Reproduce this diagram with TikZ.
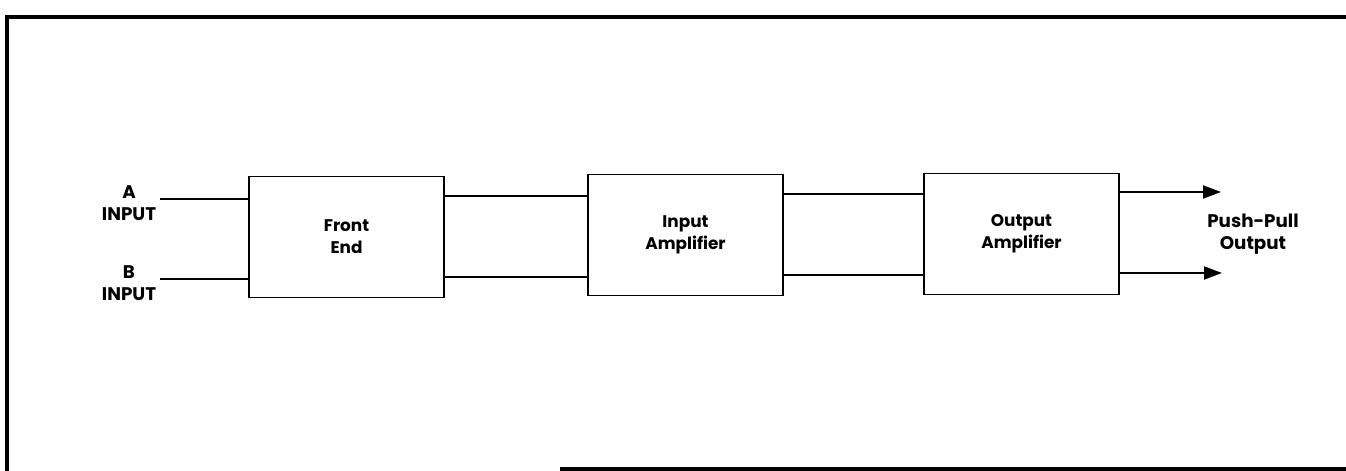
\documentclass[tikz,border=0pt]{standalone}
\usepackage{fontspec}
\setmainfont{Poppins}
\usetikzlibrary{arrows.meta}

\begin{document}
\begin{tikzpicture}[
    block/.style={draw, line width=1.1pt, minimum width=3.9cm, minimum height=2.42cm, align=center, font=\bfseries\fontsize{9.6}{12.5}\selectfont},
    lbl/.style={align=center, font=\bfseries\fontsize{10.4}{12.2}\selectfont},
    wire/.style={line width=1.1pt},
    every node/.style={inner sep=0pt}
  ]
                \useasboundingbox (0,0) rectangle (26.92,9.42);
                % Frame
                \draw[line width=2.2pt] (0.14,0) -- (0.14,9.08) -- (26.92,9.08);
                \draw[line width=1.8pt] (11.2,0.04) -- (26.92,0.04);
                % Blocks
                \node[block] (fe) at (6.93,4.68) {Front\\End};
                \node[block] (ia) at (13.71,4.72) {Input\\Amplifier};
                \node[block] (oa) at (20.43,4.74) {Output\\Amplifier};
                % Inputs
                \coordinate (ina) at (3.2,5.44);
                \coordinate (inb) at (3.2,3.84);
                \node[lbl] (la) at (2.58,5.36) {A\\INPUT};
                \node[lbl] (lb) at (2.58,3.76) {B\\INPUT};
                \draw[wire] (ina) -- (ina -| fe.west);
                \draw[wire] (inb) -- (inb -| fe.west);
                % Links
                \draw[wire] ([yshift=0.82cm]fe.east) -- ([yshift=0.82cm]fe.east -| ia.west);
                \draw[wire] ([yshift=-0.8cm]fe.east) -- ([yshift=-0.8cm]fe.east -| ia.west);
                \draw[wire] ([yshift=0.82cm]ia.east) -- ([yshift=0.82cm]ia.east -| oa.west);
                \draw[wire] ([yshift=-0.8cm]ia.east) -- ([yshift=-0.8cm]ia.east -| oa.west);
                % Outputs
                \coordinate (outa) at (24.42,5.58);
                \coordinate (outb) at (24.44,3.96);
                \draw[wire, -{Triangle[length=3.6mm, width=2.6mm]}] (outa -| oa.east) -- (outa);
                \draw[wire, -{Triangle[length=3.6mm, width=2.6mm]}] (outb -| oa.east) -- (outb);
                \node[lbl] (lo) at (25.06,4.74) {Push-Pull\\Output};
            \end{tikzpicture}
\end{document}
